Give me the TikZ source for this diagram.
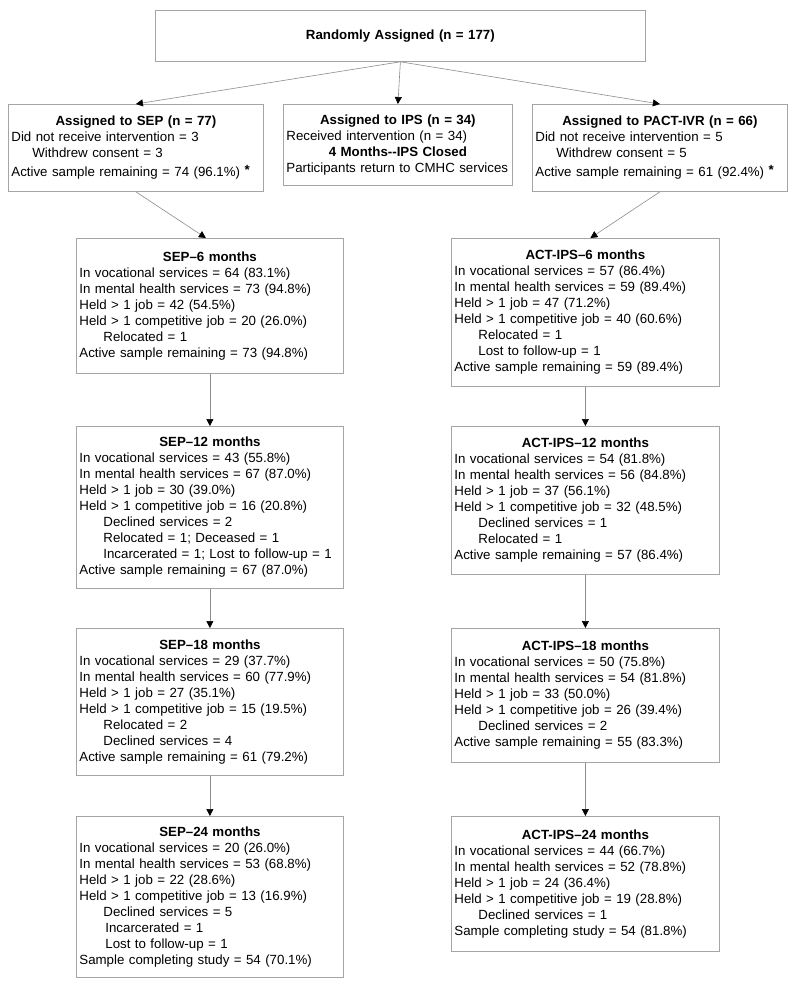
\documentclass[tikz,border=0pt]{standalone}
\usepackage{fontspec}
\setmainfont{Liberation Sans}
\usetikzlibrary{arrows.meta}
\definecolor{boxgray}{RGB}{165,165,165}
\definecolor{linegray}{RGB}{140,140,140}
\newcommand{\boxhead}[1]{\makebox[\linewidth][c]{\bfseries #1}}
\newcommand{\indA}{\hspace*{24pt}}
\newcommand{\indB}{\hspace*{21pt}}
\newcommand{\astmark}{\raisebox{2.5pt}{\bfseries *}}
\begin{document}
\begin{tikzpicture}[x=1pt,y=-1pt,
  box/.style={draw=boxgray, line width=0.8pt, anchor=north west, inner xsep=3pt, inner ysep=0pt,
    align=left, font=\fontsize{13.3}{16}\selectfont},
  conn/.style={draw=linegray, line width=0.6pt, -{Triangle[length=7pt,width=7pt,color=black]}}]
\useasboundingbox[fill=white] (0,0) rectangle (800,989);

% top
\node[box, text width=484pt, minimum height=51pt, align=center] (top) at (155,10)
  {\textbf{Randomly Assigned (n = 177)}};

% second row
\node[box, text width=249pt, minimum height=87pt] (sep) at (8,104)
  {\boxhead{Assigned to SEP (n = 77)}\\
   Did not receive intervention = 3\\
   \indB Withdrew consent = 3\\[3pt]
   Active sample remaining = 74 (96.1\%) \astmark};
\node[box, text width=223pt, minimum height=81pt] (ips) at (283,104)
  {\boxhead{Assigned to IPS (n = 34)}\\
   Received intervention (n = 34)\\
   \boxhead{4 Months-{}-IPS Closed}\\
   Participants return to CMHC services};
\node[box, text width=249pt, minimum height=87pt] (pact) at (532,104)
  {\boxhead{Assigned to PACT-IVR (n = 66)}\\
   Did not receive intervention = 5\\
   \indB Withdrew consent = 5\\[3pt]
   Active sample remaining = 61 (92.4\%) \astmark};

% SEP column
\node[box, text width=261pt, minimum height=135pt] (sep6) at (76,238)
  {\boxhead{SEP–6 months}\\
   In vocational services = 64 (83.1\%)\\
   In mental health services = 73 (94.8\%)\\
   Held > 1 job = 42 (54.5\%)\\
   Held > 1 competitive job = 20 (26.0\%)\\
   \indA Relocated = 1\\
   Active sample remaining = 73 (94.8\%)};
\node[box, text width=261pt, minimum height=162pt] (sep12) at (76,426)
  {\boxhead{SEP–12 months}\\
   In vocational services = 43 (55.8\%)\\
   In mental health services = 67 (87.0\%)\\
   Held > 1 job = 30 (39.0\%)\\
   Held > 1 competitive job = 16 (20.8\%)\\
   \indA Declined services = 2\\
   \indA Relocated = 1; Deceased = 1\\
   \indA Incarcerated = 1; Lost to follow-up = 1\\
   Active sample remaining = 67 (87.0\%)};
\node[box, text width=261pt, minimum height=147pt] (sep18) at (76,628)
  {\boxhead{SEP–18 months}\\
   In vocational services = 29 (37.7\%)\\
   In mental health services = 60 (77.9\%)\\
   Held > 1 job = 27 (35.1\%)\\
   Held > 1 competitive job = 15 (19.5\%)\\
   \indA Relocated = 2\\
   \indA Declined services = 4\\
   Active sample remaining = 61 (79.2\%)};
\node[box, text width=261pt, minimum height=161pt] (sep24) at (76,816)
  {\boxhead{SEP–24 months}\\
   In vocational services = 20 (26.0\%)\\
   In mental health services = 53 (68.8\%)\\
   Held > 1 job = 22 (28.6\%)\\
   Held > 1 competitive job = 13 (16.9\%)\\
   \indA Declined services = 5\\
   \hspace*{26pt}Incarcerated = 1\\
   \hspace*{26pt}Lost to follow-up = 1\\
   Sample completing study = 54 (70.1\%)};

% ACT column
\node[box, text width=262pt, minimum height=148pt] (act6) at (451,238)
  {\boxhead{ACT-IPS–6 months}\\
   In vocational services = 57 (86.4\%)\\
   In mental health services = 59 (89.4\%)\\
   Held > 1 job = 47 (71.2\%)\\
   Held > 1 competitive job = 40 (60.6\%)\\
   \indA Relocated = 1\\
   \indA Lost to follow-up = 1\\
   Active sample remaining = 59 (89.4\%)};
\node[box, text width=262pt, minimum height=148pt] (act12) at (451,426)
  {\boxhead{ACT-IPS–12 months}\\
   In vocational services = 54 (81.8\%)\\
   In mental health services = 56 (84.8\%)\\
   Held > 1 job = 37 (56.1\%)\\
   Held > 1 competitive job = 32 (48.5\%)\\
   \indA Declined services = 1\\
   \indA Relocated = 1\\
   Active sample remaining = 57 (86.4\%)};
\node[box, text width=262pt, minimum height=134pt] (act18) at (451,628)
  {\boxhead{ACT-IPS–18 months}\\
   In vocational services = 50 (75.8\%)\\
   In mental health services = 54 (81.8\%)\\
   Held > 1 job = 33 (50.0\%)\\
   Held > 1 competitive job = 26 (39.4\%)\\
   \indA Declined services = 2\\
   Active sample remaining = 55 (83.3\%)};
\node[box, text width=262pt, minimum height=135pt] (act24) at (451,816)
  {\boxhead{ACT-IPS–24 months}\\
   In vocational services = 44 (66.7\%)\\
   In mental health services = 52 (78.8\%)\\
   Held > 1 job = 24 (36.4\%)\\
   Held > 1 competitive job = 19 (28.8\%)\\
   \indA Declined services = 1\\
   Sample completing study = 54 (81.8\%)};

% connectors
\draw[conn] (top.south) -- (sep.north);
\draw[conn] (top.south) -- (ips.north);
\draw[conn] (top.south) -- (pact.north);
\draw[conn] (sep.south) -- ([xshift=-4pt]sep6.north);
\draw[conn] (pact.south) -- ([xshift=5pt]act6.north);
\draw[conn] (sep6.south) -- (sep12.north);
\draw[conn] (sep12.south) -- (sep18.north);
\draw[conn] (sep18.south) -- (sep24.north);
\draw[conn] (act6.south) -- (act12.north);
\draw[conn] (act12.south) -- (act18.north);
\draw[conn] (act18.south) -- (act24.north);
\end{tikzpicture}
\end{document}
